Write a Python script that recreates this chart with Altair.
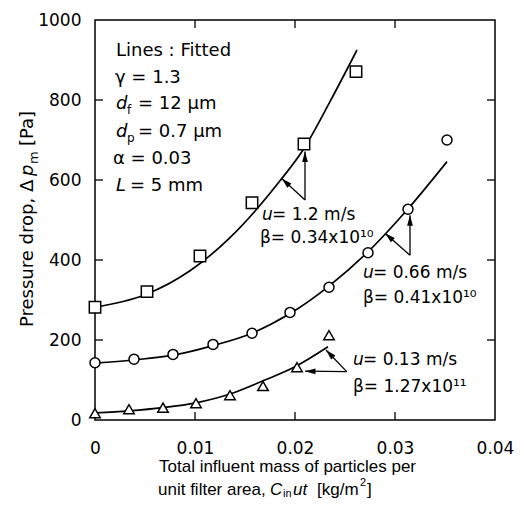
import math
import altair as alt
import pandas as pd

# ---------------- data ----------------
# measured points
sq_x = [0.0, 0.0052, 0.0105, 0.0157, 0.0209, 0.0261]
sq_y = [282, 321, 410, 543, 690, 871]
ci_x = [0.0, 0.0039, 0.0078, 0.0118, 0.0157, 0.0195, 0.0234, 0.0273, 0.0313, 0.0352]
ci_y = [143, 152, 164, 189, 217, 269, 332, 418, 527, 700]
tr_x = [0.0, 0.0034, 0.0068, 0.0101, 0.0135, 0.0168, 0.0202, 0.0234]
tr_y = [17, 27, 31, 42, 62, 85, 132, 212]

# fitted curves
fit_sq_x = [0.0, 0.005, 0.0095, 0.0135, 0.0185, 0.0208, 0.0235, 0.0262]
fit_sq_y = [282, 313, 373, 456, 598, 675, 796, 925]
fit_ci_x = [0.0, 0.0038, 0.0078, 0.0118, 0.0157, 0.0195, 0.0233, 0.0272, 0.0312, 0.0352]
fit_ci_y = [142, 150, 162, 186, 217, 266, 333, 418, 525, 646]
fit_tr_x = [0.0, 0.0034, 0.0068, 0.0101, 0.0135, 0.0168, 0.0200, 0.0233]
fit_tr_y = [18, 23, 31, 43, 65, 98, 133, 183]

# annotation arrows (start -> tip, data coordinates)
arrow_x = [0.0210, 0.0210, 0.0315, 0.0315, 0.02517, 0.02517]
arrow_y = [550, 550, 412, 412, 121, 121]
arrow_x2 = [0.0210, 0.01867, 0.0315, 0.0290, 0.0231, 0.0210]
arrow_y2 = [671, 604, 512, 467, 175, 122]

x_ticks = [0.01, 0.02, 0.03]
y_ticks = [200, 400, 600, 800]

XMAX, YMAX = 0.04, 1000
W, H = 400, 400
FONT = "DejaVu Sans"
FONT2 = "Liberation Sans"

xs = alt.Scale(domain=[0, XMAX], nice=False, zero=False)
ys = alt.Scale(domain=[0, YMAX], nice=False, zero=False)

# ---------------- base layers ----------------
def pts_df(x, y):
    return pd.DataFrame({"x": x, "y": y})

fits = pd.concat([
    pd.DataFrame({"x": fit_sq_x, "y": fit_sq_y, "s": "u=1.2"}),
    pd.DataFrame({"x": fit_ci_x, "y": fit_ci_y, "s": "u=0.66"}),
    pd.DataFrame({"x": fit_tr_x, "y": fit_tr_y, "s": "u=0.13"}),
])

xaxis = alt.Axis(values=[0, 0.01, 0.02, 0.03, 0.04], labelExpr="datum.value == 0 ? '0' : format(datum.value, '.2f')",
                 ticks=False, domain=False, grid=False, title=None, labelFont=FONT, labelFontSize=17,
                 labelColor="black", labelPadding=20, labelFlush=False)
yaxis = alt.Axis(values=[0, 200, 400, 600, 800, 1000], format="d", ticks=False, domain=False, grid=False,
                 title=None, labelFont=FONT, labelFontSize=17, labelColor="black", labelPadding=14,
                 labelFlush=False)

lines = alt.Chart(fits).mark_line(interpolate="monotone", color="black", strokeWidth=1.7).encode(
    x=alt.X("x:Q", scale=xs, axis=xaxis),
    y=alt.Y("y:Q", scale=ys, axis=yaxis),
    detail="s:N",
)

def marker(df, shape, size):
    return alt.Chart(df).mark_point(shape=shape, size=size, filled=False, fill="white", fillOpacity=1,
                                    stroke="black", strokeWidth=1.5, opacity=1).encode(
        x=alt.X("x:Q", scale=xs), y=alt.Y("y:Q", scale=ys))

squares = marker(pts_df(sq_x, sq_y), "square", 130)
circles = marker(pts_df(ci_x, ci_y), "circle", 100)
triangles = marker(pts_df(tr_x, tr_y), "triangle-up", 110)

# inward ticks on all four sides
xt = pd.DataFrame({"v": x_ticks})
yt = pd.DataFrame({"v": y_ticks})
tick_style = dict(color="black", strokeWidth=1.3)
tb = alt.Chart(xt).mark_rule(**tick_style).encode(x=alt.X("v:Q", scale=xs), y=alt.value(H), y2=alt.value(H - 8))
tt = alt.Chart(xt).mark_rule(**tick_style).encode(x=alt.X("v:Q", scale=xs), y=alt.value(0), y2=alt.value(8))
tl = alt.Chart(yt).mark_rule(**tick_style).encode(y=alt.Y("v:Q", scale=ys), x=alt.value(0), x2=alt.value(8))
tr = alt.Chart(yt).mark_rule(**tick_style).encode(y=alt.Y("v:Q", scale=ys), x=alt.value(W), x2=alt.value(W - 8))

# arrows
adf = pd.DataFrame({"x": arrow_x, "y": arrow_y, "x2": arrow_x2, "y2": arrow_y2})
pxu, pyu = W / XMAX, H / YMAX
adf["ang"] = [
    (math.degrees(math.atan2((b - a) * pxu, (d - c) * pyu)) + 360) % 360
    for a, b, c, d in zip(adf["x"], adf["x2"], adf["y"], adf["y2"])
]
shafts = alt.Chart(adf).mark_rule(color="black", strokeWidth=1.3).encode(
    x=alt.X("x:Q", scale=xs), y=alt.Y("y:Q", scale=ys), x2="x2:Q", y2="y2:Q")
heads = alt.Chart(adf).mark_point(shape="M0,0L0.55,2L-0.55,2Z", filled=True, color="black", size=110,
                                  opacity=1).encode(
    x=alt.X("x2:Q", scale=xs), y=alt.Y("y2:Q", scale=ys), angle=alt.Angle("ang:Q", scale=None))

# ---------------- text pieces (pixel positions inside the plot frame) ----------------
txt_normal = [  # text, px, py, size
    ("Lines : Fitted", 21, 31, 18),
    ("γ = 1.3", 20, 58, 18),
    ("= 12 μm", 43, 84, 18),
    ("= 0.7 μm", 43, 112, 18),
    ("α = 0.03", 18, 139, 18),
    ("= 5 mm", 35, 166, 18),
    ("= 1.2 m/s", 177, 195, 17),
    ("β= 0.34x10¹⁰", 165, 218, 17),
    ("= 0.66 m/s", 278, 253, 17),
    ("β= 0.41x10¹⁰", 268, 278, 17),
    ("= 0.13 m/s", 268, 340, 17),
    ("β= 1.27x10¹¹", 258, 367, 17),
    ("f", 32, 90, 12),
    ("p", 32, 118, 12),
]
txt_italic = [
    ("d", 21, 84, 18),
    ("d", 21, 112, 18),
    ("L", 21, 166, 18),
    ("u", 167, 195, 17),
    ("u", 268, 253, 17),
    ("u", 258, 340, 17),
]
xtitle_normal = [
    ("Total influent mass of particles per", 64, 447, 17),
    ("unit filter area,", 63, 470, 17),
    ("in", 188, 474, 11),
    ("[kg/m", 222, 470, 17),
    ("2", 265, 463, 11),
    ("]", 272, 470, 17),
]
xtitle_italic = [
    ("C", 175, 470, 17),
    ("ut", 198, 470, 17),
]
ytitle_normal = [
    ("Pressure drop, Δ", -62, 307, 18),
    ("m", -57, 144, 13),
    ("[Pa]", -62, 126, 18),
]
ytitle_italic = [
    ("p", -62, 156, 18),
]

def tdf(rows):
    return pd.DataFrame(rows, columns=["t", "px", "py", "fs"])

def text_layer(rows, font, style="normal", angle=0, baseline="middle"):
    return alt.Chart(tdf(rows)).mark_text(align="left", baseline=baseline, font=font, fontStyle=style,
                                          angle=angle, color="black").encode(
        x=alt.X("px:Q", scale=None), y=alt.Y("py:Q", scale=None), text="t:N", size=alt.Size("fs:Q", scale=None))

texts = [
    text_layer(txt_normal, FONT),
    text_layer(txt_italic, FONT, "italic"),
    text_layer(xtitle_normal, FONT2),
    text_layer(xtitle_italic, FONT2, "italic"),
    text_layer(ytitle_normal, FONT, angle=270, baseline="alphabetic"),
    text_layer(ytitle_italic, FONT, "italic", angle=270, baseline="alphabetic"),
]

chart = alt.layer(lines, squares, circles, triangles, tb, tt, tl, tr, shafts, heads, *texts).properties(
    width=W, height=H,
    padding={"left": 87, "top": 12, "right": 21, "bottom": 79},
    autosize=alt.AutoSizeParams(type="none"),
    background="white",
).configure_view(stroke="black", strokeWidth=1.5)

chart.save("out.html", embed_options={"renderer": "svg", "actions": False})
